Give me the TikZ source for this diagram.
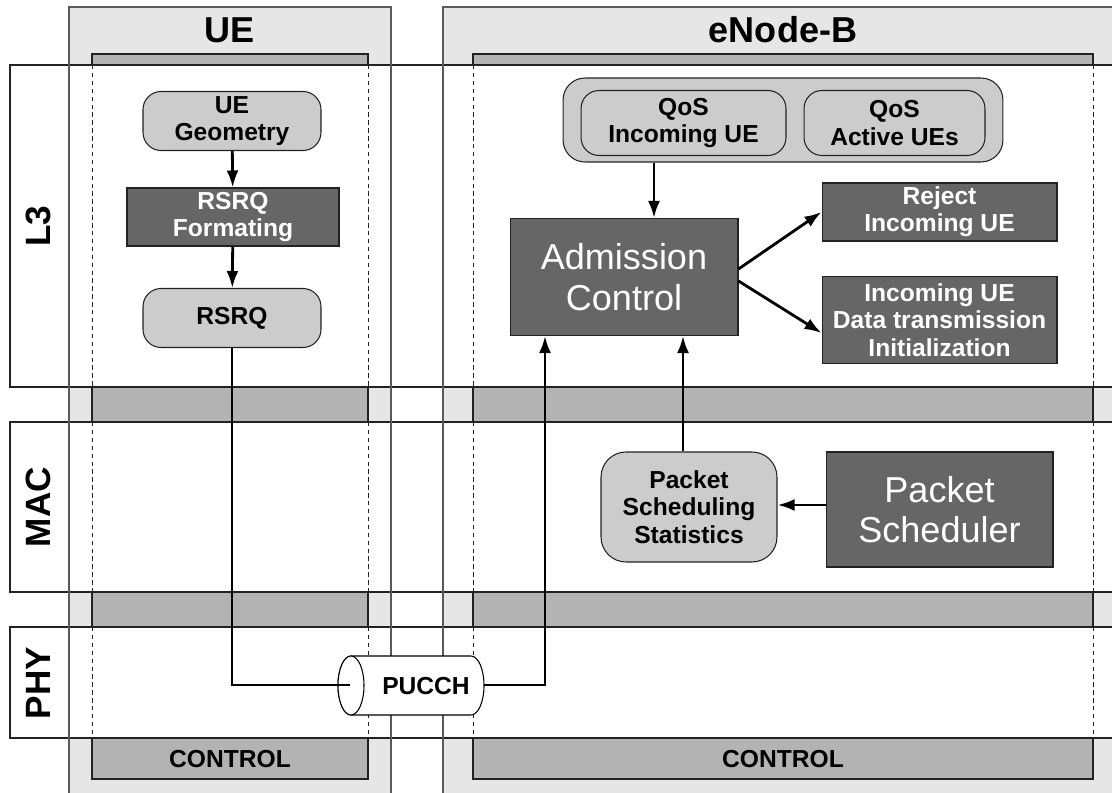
\documentclass[tikz,border=0pt]{standalone}
\usepackage{fontspec}
\setmainfont{Liberation Sans}
\usetikzlibrary{arrows.meta,calc}
\definecolor{colbg}{HTML}{E6E6E6}
\definecolor{bandc}{HTML}{B3B3B3}
\definecolor{lightbox}{HTML}{CCCCCC}
\definecolor{darkbox}{HTML}{666666}
\definecolor{edgec}{HTML}{5A5A5A}
\definecolor{linec}{HTML}{222222}
\begin{document}
\begin{tikzpicture}[x=0.02cm,y=-0.02cm,
  bandst/.style={fill=bandc,draw=linec,line width=0.6pt},
  rowst/.style={fill=white,draw=linec,line width=0.6pt},
  coledge/.style={draw=edgec,line width=0.9pt},
  dashst/.style={draw=linec,line width=0.55pt,dash pattern=on 2.5pt off 2pt},
  hdr/.style={font=\fontsize{20.5}{24}\selectfont\bfseries},
  rowlab/.style={font=\fontsize{20}{24}\selectfont\bfseries,rotate=90},
  ctl/.style={font=\fontsize{14}{16}\selectfont\bfseries},
  lbl/.style={font=\fontsize{14}{15.5}\selectfont\bfseries,align=center,inner sep=0pt},
  lightnode/.style={lbl,fill=lightbox,draw=linec,line width=0.6pt,rounded corners=0.36cm},
  darknode/.style={lbl,fill=darkbox,draw=linec,line width=0.6pt,text=white},
  bigdark/.style={darknode,font=\fontsize{20.5}{23}\selectfont},
  conn/.style={draw=black,line width=1.6pt},
  arr/.style={conn,-{Latex[length=0.34cm,width=0.24cm]}},
  cylst/.style={fill=white,draw=black,line width=0.6pt}
]
\useasboundingbox (0,0) rectangle (1112,793);
\clip (0,0) rectangle (1112,793);

% columns
\fill[colbg] (69,7) rectangle (391,800);
\fill[colbg] (443,7) rectangle (1120,800);
% inner bands
\path[bandst] (92,54) rectangle (368,779);
\path[bandst] (473,54) rectangle (1093,779);
% rows
\path[rowst] (10,65) rectangle (1120,387);
\path[rowst] (10,422) rectangle (1120,592);
\path[rowst] (10,627) rectangle (1120,738);
% column edges
\draw[coledge] (69,800) -- (69,7) -- (391,7) -- (391,800);
\draw[coledge] (443,800) -- (443,7) -- (1120,7);
% dashed band edges inside the rows
\foreach \x in {92,368,473,1093}{
  \foreach \a/\b in {65/387,422/592,627/738}{
    \draw[dashst] (\x,\a) -- (\x,\b);
  }
}

% headers and labels
\node[hdr] (ueh) at (230,30) {UE};
\node[hdr] (enbh) at (783,30) {eNode-B};
\node[rowlab] (l3) at (38,226) {L3};
\node[rowlab] (mac) at (38,507) {MAC};
\node[rowlab] (phy) at (38,683) {PHY};
\node[ctl] (ctlue) at (230,759) {CONTROL};
\node[ctl] (ctlenb) at (783,759) {CONTROL};

% UE nodes
\node[lightnode,minimum width=3.56cm,minimum height=1.18cm] (geo) at (232,121) {UE\\Geometry};
\node[darknode,minimum width=4.24cm,minimum height=1.16cm] (fmt) at (233,217) {RSRQ\\Formating};
\node[lightnode,minimum width=3.56cm,minimum height=1.18cm] (rsrq) at (232,318) {RSRQ};

% eNode-B nodes
\node[lightnode,rounded corners=0.44cm,minimum width=8.8cm,minimum height=1.68cm] (qos) at (783,120) {};
\node[lightnode,minimum width=4.1cm,minimum height=1.3cm] (qin) at (683.5,123) {QoS\\Incoming UE};
\node[lightnode,minimum width=3.62cm,minimum height=1.3cm] (qact) at (894.5,123) {QoS\\Active UEs};
\node[bigdark,minimum width=4.56cm,minimum height=2.34cm] (adm) at (624,277) {Admission\\Control};
\node[darknode,minimum width=4.7cm,minimum height=1.16cm] (rej) at (939.5,212) {Reject\\Incoming UE};
\node[darknode,minimum width=4.7cm,minimum height=1.74cm] (dat) at (939.5,320) {Incoming UE\\Data transmission\\Initialization};
\node[lightnode,rounded corners=0.5cm,minimum width=3.52cm,minimum height=2.2cm] (pss) at (689,507) {Packet\\Scheduling\\Statistics};
\node[bigdark,minimum width=4.54cm,minimum height=2.3cm] (ps) at (939.5,509.5) {Packet\\Scheduler};

% PUCCH cylinder
\path[cylst] (351,656) -- (471,656)
  arc[start angle=-90,end angle=90,x radius=13,y radius=29.5]
  -- (351,715)
  arc[start angle=90,end angle=270,x radius=13,y radius=29.5] -- cycle;
\draw[cylst] (351,685.5) ellipse [x radius=13,y radius=29.5];
\node[lbl] (pucch) at (426,686) {PUCCH};
\coordinate (pin) at (350,685);
\coordinate (pout) at (484,685);

% connector x positions
\coordinate (qx) at (654,0);
\coordinate (px) at (683,0);
\coordinate (ux) at (545,0);

% connectors
\draw[arr] (geo) -- (fmt);
\draw[arr] (fmt) -- (rsrq);
\draw[conn] (rsrq.south) |- (pin);
\draw[arr] (pout) -| (ux |- adm.south);
\draw[arr] (qx |- qos.south) -- (qx |- adm.north);
\draw[arr] (px |- pss.north) -- (px |- adm.south);
\draw[arr] (ps.west |- 0,505) -- (pss.east |- 0,505);
\draw[arr] ($(adm.east)+(0,-8)$) -- (rej.west);
\draw[arr] ($(adm.east)+(0,4)$) -- ($(dat.west)+(0,13)$);
\end{tikzpicture}
\end{document}
